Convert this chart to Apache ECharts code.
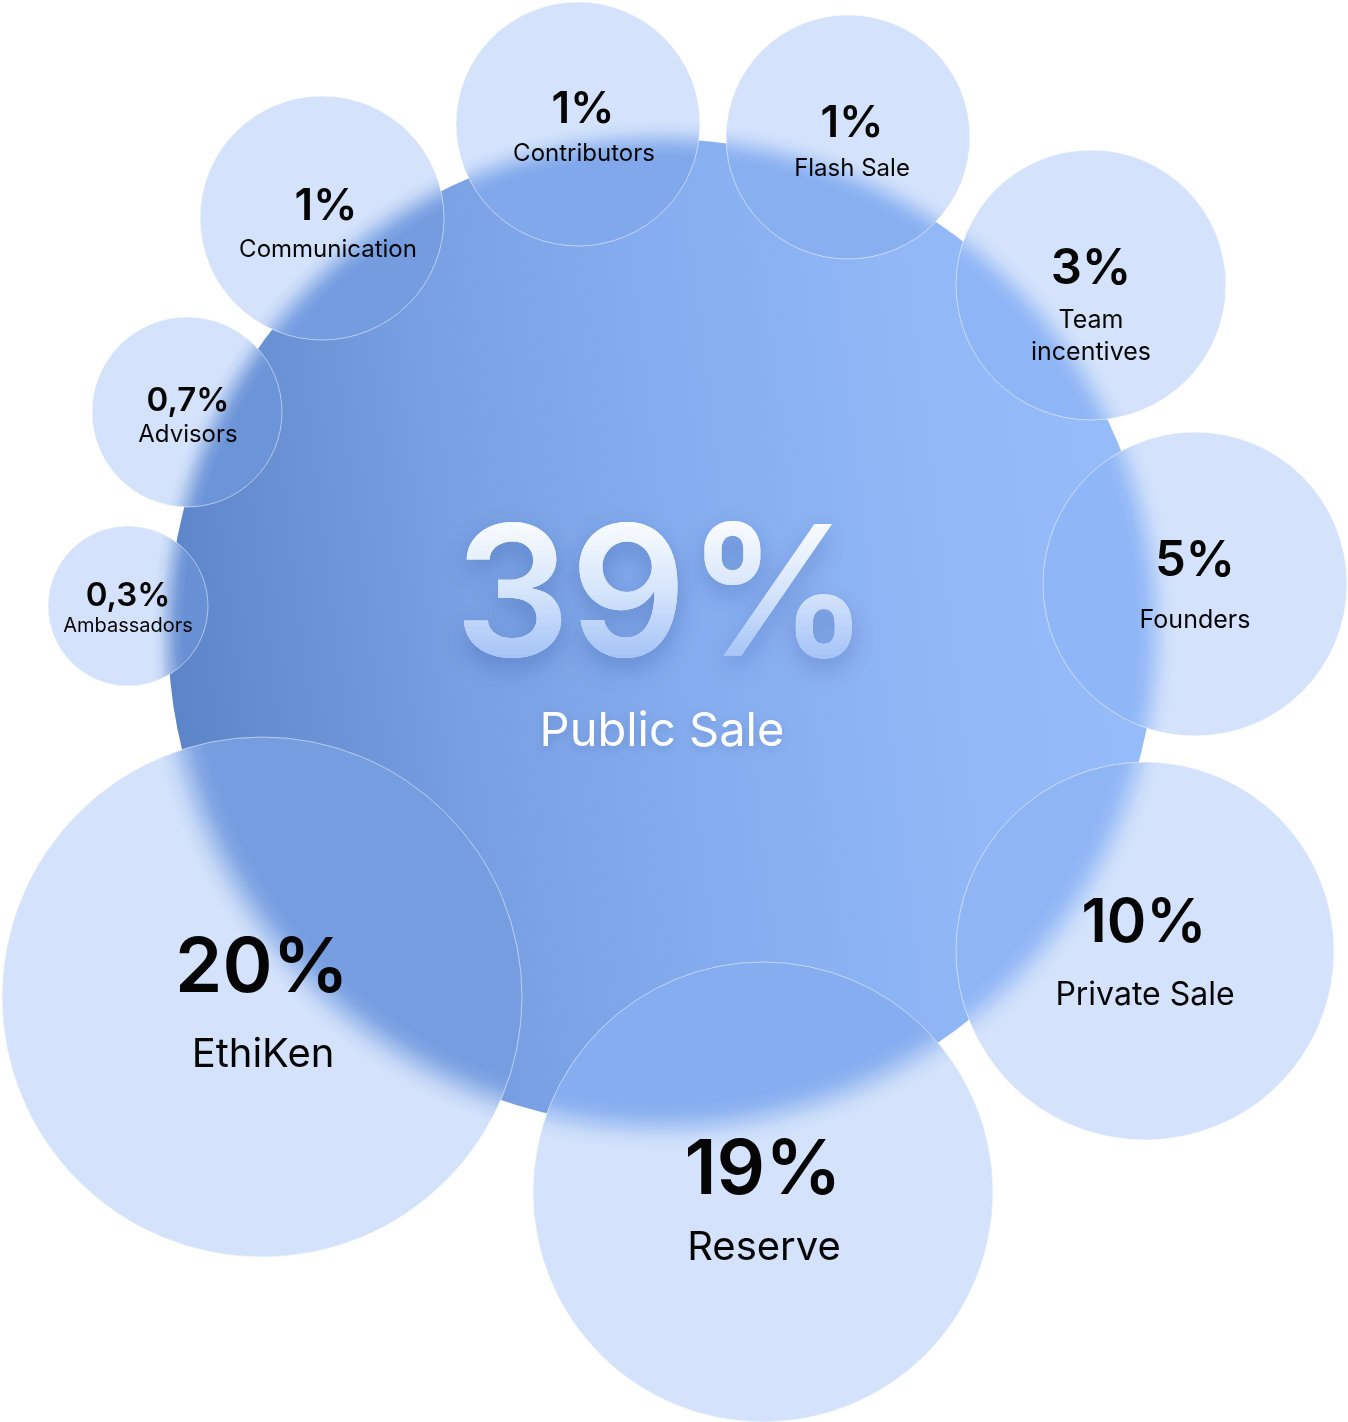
<!DOCTYPE html>
<html>
<head>
<meta charset="utf-8">
<script src="https://cdn.jsdelivr.net/npm/echarts@6/dist/echarts.min.js"></script>
<style>
html,body{margin:0;padding:0;background:#ffffff;}
#chart{width:1348px;height:1422px;}
</style>
</head>
<body>
<div id="chart"></div>
<script>
// ---------------- data ----------------
const categories = ['Public Sale','EthiKen','Reserve','Private Sale','Founders','Team incentives','Flash Sale','Contributors','Communication','Advisors','Ambassadors'];
const shares = [39, 20, 19, 10, 5, 3, 1, 1, 1, 0.7, 0.3];
const shareLabels = ['39%','20%','19%','10%','5%','3%','1%','1%','1%','0,7%','0,3%'];

// ---------------- layout (pixel space 1348 x 1422) ----------------
// [centerX, centerY, radius]
const bubbleLayout = [
  [662, 633, 494],
  [262, 997, 260],
  [763, 1192, 230],
  [1145, 951, 189],
  [1195, 584, 152],
  [1091, 285, 135],
  [848, 137, 122],
  [578, 124, 122],
  [322, 218, 122],
  [187, 412, 95],
  [128, 606, 80]
];
// [pctDx, pctDy, pctFontSize, nameDx, nameDy, nameFontSize]
const labelLayout = [
  [0, -43, 182, 0, 96, 47],
  [0, -33, 76, 1, 55, 40],
  [0, -26, 76, 1, 53, 40],
  [-1, -31, 60, 0, 42, 32],
  [0, -26, 49, 0, 35, 25],
  [0, -19, 49, 0, 50, 25],
  [4, -16, 44, 4, 30, 24],
  [5, -17, 44, 6, 28, 24],
  [4, -14, 44, 6, 30, 24],
  [1, -13, 33, 1, 21, 24],
  [0, -12, 33, 0, 19, 20]
];

// ---------------- styles ----------------
const FONT = 'Inter, "Noto Sans", sans-serif';
const bigStops = [
  [0, '#5c84c8'], [0.306, '#78a0e2'], [0.538, '#85adef'], [0.8, '#92b8f7'], [1, '#96bcfa']
];
const lightColor = '#d4e3fb';
const overlapTint = '#82aaee';
const digitStops = [[0, '#fbfdff'], [0.5, '#d6e5fc'], [1, '#a2c1f6']];

function hex(h) { h = h.replace('#', ''); return [0, 2, 4].map(k => parseInt(h.slice(k, k + 2), 16)); }
function mixRgb(a, b, t) { return a.map((v, k) => v + (b[k] - v) * t); }
function css(c) { return 'rgb(' + c.map(v => Math.round(v)).join(',') + ')'; }
function sampleStops(stops, t) {
  t = Math.max(0, Math.min(1, t));
  for (let k = 1; k < stops.length; k++) {
    if (t <= stops[k][0]) {
      const a = stops[k - 1], b = stops[k];
      return mixRgb(hex(a[1]), hex(b[1]), (t - a[0]) / (b[0] - a[0]));
    }
  }
  return hex(stops[stops.length - 1][1]);
}

const seriesData = categories.map((name, i) => ({
  name: name,
  value: [bubbleLayout[i][0], bubbleLayout[i][1], bubbleLayout[i][2], shares[i]]
}));

const chart = echarts.init(document.getElementById('chart'), null, { renderer: 'canvas' });

chart.setOption({
  animation: false,
  backgroundColor: '#ffffff',
  grid: { left: 0, right: 0, top: 0, bottom: 0, containLabel: false },
  xAxis: { type: 'value', min: 0, max: 1348, show: false },
  yAxis: { type: 'value', min: 0, max: 1422, inverse: true, show: false },
  series: [{
    type: 'custom',
    silent: true,
    coordinateSystem: 'cartesian2d',
    dimensions: ['x', 'y', 'r', 'share'],
    encode: { x: 0, y: 1 },
    data: seriesData,
    renderItem: function (params, api) {
      const i = params.dataIndex;
      const c = api.coord([api.value(0), api.value(1)]);
      const r = api.size([api.value(2), 0])[0];
      const bc = api.coord([bubbleLayout[0][0], bubbleLayout[0][1]]);
      const bR = api.size([bubbleLayout[0][2], 0])[0];
      const L = labelLayout[i];
      const children = [];

      if (i === 0) {
        children.push({
          type: 'circle',
          shape: { cx: c[0], cy: c[1], r: r },
          style: {
            fill: {
              type: 'linear', x: c[0] - r, y: c[1] + r * 0.12, x2: c[0] + r, y2: c[1] - r * 0.12, global: true,
              colorStops: bigStops.map(s => ({ offset: s[0], color: s[1] }))
            }
          }
        });
      } else {
        const blur = 12 + r * 0.05;
        const dx = bc[0] - c[0], dy = bc[1] - c[1];
        const d = Math.hypot(dx, dy);
        const ox = c[0] + dx / d * r * 0.6;
        const under = sampleStops(bigStops, (ox - (bc[0] - bR)) / (2 * bR));
        const ov = mixRgb(under, hex(overlapTint), 0.3);
        const lt = hex(lightColor);
        const R1 = bR + blur;
        const o0 = (bR - blur) / R1, o1 = 1;
        children.push({
          type: 'circle',
          shape: { cx: c[0], cy: c[1], r: r },
          style: {
            fill: {
              type: 'radial', x: bc[0], y: bc[1], r: R1, global: true,
              colorStops: [
                { offset: 0, color: css(ov) },
                { offset: o0, color: css(ov) },
                { offset: o0 + (o1 - o0) * 0.25, color: css(mixRgb(ov, lt, 0.15)) },
                { offset: o0 + (o1 - o0) * 0.5, color: css(mixRgb(ov, lt, 0.5)) },
                { offset: o0 + (o1 - o0) * 0.75, color: css(mixRgb(ov, lt, 0.85)) },
                { offset: 1, color: css(lt) }
              ]
            },
            stroke: 'rgba(255,255,255,0.5)',
            lineWidth: 1
          }
        });
      }

      // percentage label
      const pSize = L[2];
      const px = c[0] + L[0];
      const py = c[1] + L[1] + 0.064 * pSize;
      if (i === 0) {
        const font = '600 ' + pSize + 'px ' + FONT;
        children.push({
          type: 'text', x: px, y: py,
          style: {
            text: shareLabels[i], font: font, fill: '#d6e5fc',
            align: 'center', verticalAlign: 'middle', textAlign: 'center', textVerticalAlign: 'middle',
            textShadowColor: 'rgba(30,60,140,0.30)', textShadowBlur: 26, textShadowOffsetY: 10
          }
        });
        const capH = 0.727 * pSize;
        const top = c[1] + L[1] - capH / 2 - 6;
        const bottom = c[1] + L[1] + capH / 2 + 6;
        const N = 32;
        const h = (bottom - top) / N;
        for (let k = N - 1; k >= 0; k--) {
          const bandTop = top + k * h;
          const col = sampleStops(digitStops, (bandTop + h / 2 - top) / (bottom - top));
          children.push({
            type: 'text', x: px, y: py,
            clipPath: { type: 'rect', shape: { x: -500, y: (k === 0 ? bandTop - 60 : bandTop) - py, width: 1000, height: (k === 0 || k === N - 1) ? h + 60.5 : h + 0.5 } },
            style: {
              text: shareLabels[i], font: font, fill: css(col),
              align: 'center', verticalAlign: 'middle', textAlign: 'center', textVerticalAlign: 'middle'
            }
          });
        }
        children.push({
          type: 'text', x: c[0] + L[3], y: c[1] + L[4] + 0.064 * L[5],
          style: {
            text: categories[i], font: '400 ' + L[5] + 'px ' + FONT, fill: '#ffffff',
            align: 'center', verticalAlign: 'middle', textAlign: 'center', textVerticalAlign: 'middle',
            textShadowColor: 'rgba(30,60,140,0.22)', textShadowBlur: 10, textShadowOffsetY: 3
          }
        });
      } else {
        children.push({
          type: 'text', x: px, y: py,
          style: {
            text: shareLabels[i], font: '600 ' + pSize + 'px ' + FONT, fill: '#050505',
            align: 'center', verticalAlign: 'middle', textAlign: 'center', textVerticalAlign: 'middle'
          }
        });
        const nm = categories[i] === 'Team incentives' ? 'Team\nincentives' : categories[i];
        children.push({
          type: 'text', x: c[0] + L[3], y: c[1] + L[4] + 0.064 * L[5],
          style: {
            text: nm, font: '400 ' + L[5] + 'px ' + FONT, fill: '#050505', lineHeight: 32,
            align: 'center', verticalAlign: 'middle', textAlign: 'center', textVerticalAlign: 'middle'
          }
        });
      }
      return { type: 'group', children: children };
    }
  }]
});
</script>
</body>
</html>
